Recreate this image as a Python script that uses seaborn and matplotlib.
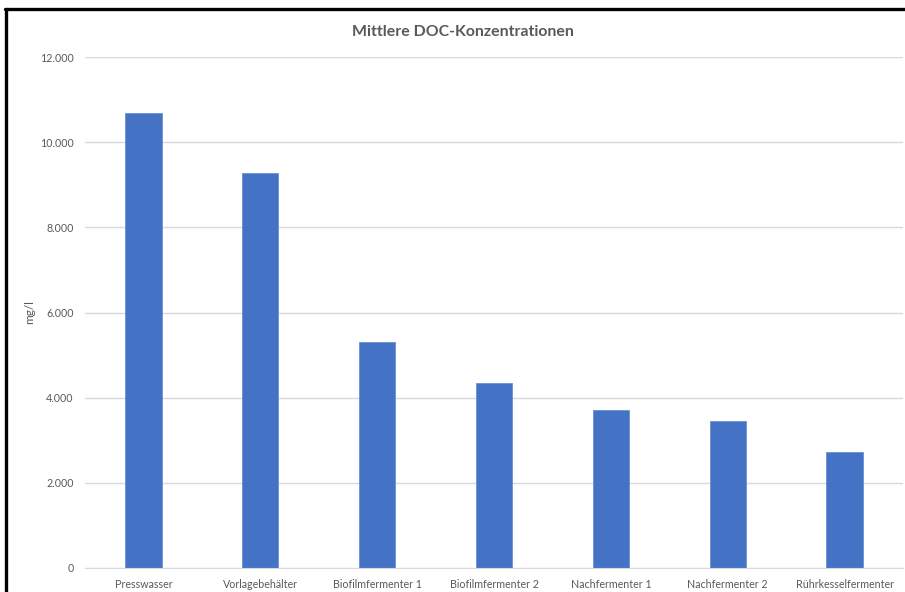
import seaborn as sns
import matplotlib.pyplot as plt
import matplotlib.ticker as mticker
from matplotlib.lines import Line2D
import pandas as pd

categories = ['Presswasser', 'Vorlagebehälter', 'Biofilmfermenter 1', 'Biofilmfermenter 2',
              'Nachfermenter 1', 'Nachfermenter 2', 'Rührkesselfermenter']
doc_values = [10690, 9280, 5310, 4345, 3710, 3460, 2730]
y_ticks = [0, 2000, 4000, 6000, 8000, 10000, 12000]

df = pd.DataFrame({'Station': categories, 'DOC': doc_values})

sns.set_style('white')
plt.rcParams['font.family'] = ['Lato', 'DejaVu Sans']

fig = plt.figure(figsize=(9.05, 5.92), dpi=100)
ax = fig.add_axes([85 / 905, 24 / 592, 818 / 905, 511 / 592])

sns.barplot(data=df, x='Station', y='DOC', color='#4472C4', width=0.31,
            edgecolor='#6a8fd4', linewidth=0.6, saturation=1, ax=ax)

ax.set_ylim(0, 12000)
ax.set_xlim(-0.5, len(categories) - 0.5)
ax.set_yticks(y_ticks)
ax.yaxis.set_major_formatter(mticker.FuncFormatter(lambda v, p: f'{int(v):,}'.replace(',', '.')))
ax.grid(axis='y', color='#d9d9d9', linewidth=1)
ax.set_axisbelow(True)
for s in ['top', 'right', 'left']:
    ax.spines[s].set_visible(False)
ax.spines['bottom'].set_color('#d9d9d9')
ax.tick_params(axis='both', length=0, labelsize=7.7, labelcolor='#595959', pad=8)
ax.tick_params(axis='y', pad=8)

ax.set_xlabel('')
ax.set_ylabel('mg/l', fontsize=8.5, color='#595959')
ax.yaxis.set_label_coords(-50 / 818, 0.5)

fig.text(463 / 905, 1 - 32 / 592, 'Mittlere DOC-Konzentrationen', ha='center', va='center',
         fontsize=11.4, fontweight='bold', color='#595959')

# frame like the screenshot: left and top only
fig.add_artist(Line2D([5.5 / 905, 5.5 / 905], [0, 1 - 9 / 592], color='black', linewidth=2.4,
                      transform=fig.transFigure))
fig.add_artist(Line2D([4.5 / 905, 1], [1 - 9 / 592, 1 - 9 / 592], color='black', linewidth=2.4,
                      transform=fig.transFigure))

fig.savefig('out.png', dpi=100)
